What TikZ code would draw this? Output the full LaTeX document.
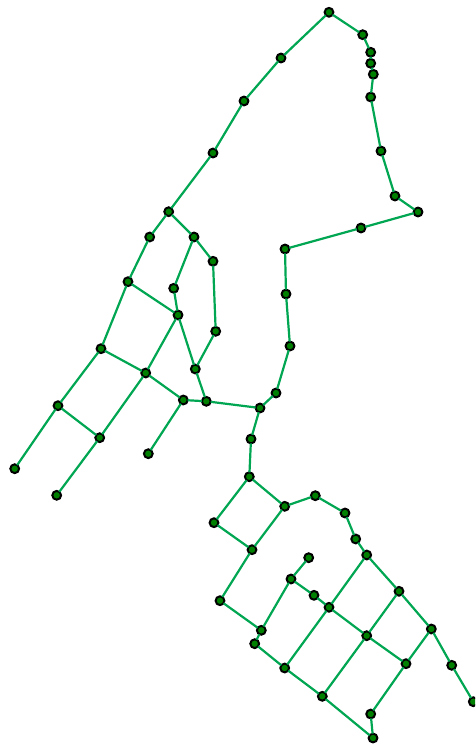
\documentclass[tikz,border=0pt]{standalone}
\definecolor{wire}{RGB}{0,166,81}
\definecolor{core}{RGB}{0,128,0}
\tikzset{
  junction/.style={circle,draw=black,fill=core,line width=2pt,minimum size=8.8pt,inner sep=0pt,outer sep=0pt},
  wirelink/.style={draw=wire,line width=2.2pt}
}
\newcommand{\junc}[3]{\node[junction] (#1) at (#2,#3) {};}
\begin{document}
\begin{tikzpicture}[x=1pt,y=-1pt]
\clip (0,0) rectangle (475,746);
\junc{ta}{329}{12.3}\junc{tb}{362.7}{34.7}\junc{tc}{370.7}{52.3}\junc{td}{370.7}{63.3}
\junc{te}{373.3}{74.3}\junc{tf}{370.7}{97}\junc{tg}{381}{151}\junc{th}{395}{196}
\junc{ti}{418}{212}\junc{tj}{361}{228}\junc{tk}{285}{249}\junc{tl}{286}{294}
\junc{tm}{290}{346}\junc{tn}{276}{393}\junc{to}{260}{408}\junc{tp}{251}{439}
\junc{ua}{281}{58}\junc{ub}{244}{101}\junc{uc}{213}{153}
\junc{a}{168.7}{211.7}\junc{b}{149.7}{237}\junc{c}{194}{237}\junc{d}{213}{261.3}
\junc{e}{128}{281.7}\junc{f}{173.7}{288.3}\junc{g}{178}{315}\junc{h}{215.7}{331.3}
\junc{i}{101}{348.7}\junc{j}{145.7}{373}\junc{k}{195.3}{369}\junc{l}{183.3}{400}
\junc{m}{206.3}{401.3}\junc{n}{58}{405.7}\junc{o}{99.7}{437.7}\junc{p}{148.3}{453.7}
\junc{q}{14.7}{468.7}\junc{r}{56.7}{495.3}
\junc{A}{249.3}{476.7}\junc{B}{284.7}{506.3}\junc{C}{315.3}{495.7}\junc{D}{345}{513}
\junc{E}{355.7}{539}\junc{F}{366.7}{555}\junc{G}{214}{522.7}\junc{H}{252}{549.7}
\junc{I}{308.7}{557.7}\junc{J}{291}{579}\junc{K}{399}{591.3}\junc{L}{314}{595.3}
\junc{M}{220}{600.7}\junc{N}{329}{607.3}\junc{O}{431.3}{629}\junc{P}{366.7}{635.7}
\junc{Q}{261.3}{630.3}\junc{R}{254.7}{643.7}\junc{S}{406}{663.7}\junc{T}{451.7}{665.3}
\junc{U}{284.7}{668}\junc{V}{322.3}{696.3}\junc{W}{473.3}{701.7}\junc{X}{370.7}{714}
\junc{Y}{373}{738}
\path[wirelink] (ta)--(tb)--(tc)--(td)--(te)--(tf)--(tg)--(th)--(ti)--(tj)--(tk)--(tl)--(tm)--(tn)--(to)--(tp)--(A);
\path[wirelink] (ta)--(ua)--(ub)--(uc)--(a);
\path[wirelink] (a)--(b)--(e)--(i)--(n)--(q);
\path[wirelink] (a)--(c)--(d)--(h)--(k);
\path[wirelink] (c)--(f)--(g)--(k)--(m);
\path[wirelink] (e)--(g)--(j)--(o)--(r);
\path[wirelink] (i)--(j)--(l)--(p);
\path[wirelink] (n)--(o);
\path[wirelink] (l)--(m)--(to);
\path[wirelink] (A)--(B)--(H)--(G)--(A);
\path[wirelink] (H)--(M)--(Q)--(R)--(U)--(V)--(Y)--(X)--(S);
\path[wirelink] (Q)--(J)--(I);
\path[wirelink] (B)--(C)--(D)--(E)--(F)--(K)--(O)--(T)--(W);
\path[wirelink] (J)--(L)--(N)--(P)--(S)--(O);
\path[wirelink] (F)--(N)--(U);
\path[wirelink] (K)--(P)--(V);
\end{tikzpicture}
\end{document}
